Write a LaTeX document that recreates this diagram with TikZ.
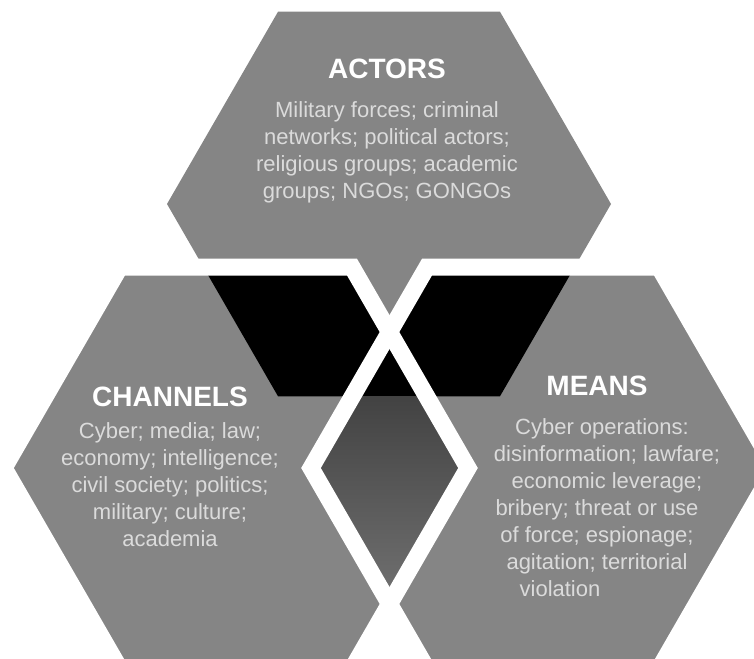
\documentclass[tikz,border=0pt]{standalone}
\usepackage{fontspec}
\setmainfont{Liberation Sans}
\usetikzlibrary{positioning}

\definecolor{hexgray}{gray}{0.52}
\definecolor{coretop}{gray}{0.26}
\definecolor{corebot}{gray}{0.45}

% flat-topped hexagon: centre, radius
\newcommand{\hexpath}[2]{(#1) ++(0:#2) -- ++(120:#2) -- ++(180:#2) -- ++(240:#2) -- ++(300:#2) -- ++(0:#2) -- cycle}

\begin{document}
\begin{tikzpicture}[x=1pt,y=-1pt,
  hextitle/.style={text=white,font=\fontsize{28}{32}\selectfont\bfseries,inner sep=0pt},
  hextext/.style={text=white!86!black,font=\fontsize{22}{27}\selectfont,align=center,inner sep=0pt},
  gapline/.style={draw=white,line width=17pt,line join=miter}]
  \useasboundingbox (0,0) rectangle (754,658);
  \clip (0,0) rectangle (754,658);

  % hexagon centres
  \coordinate (a) at (389,204);   % actors
  \coordinate (c) at (236,468);   % channels
  \coordinate (m) at (543,468);   % means

  % plain hexagons
  \fill[hexgray] \hexpath{a}{222};
  \fill[hexgray] \hexpath{c}{232};
  \fill[hexgray] \hexpath{m}{232};

  % overlaps with the actors hexagon
  \begin{scope}
    \clip \hexpath{a}{222};
    \fill[black] \hexpath{c}{232};
    \fill[black] \hexpath{m}{232};
  \end{scope}

  % channels and means, under the actors hexagon
  \begin{scope}
    \clip \hexpath{c}{232};
    \clip \hexpath{m}{232};
    \shade[top color=coretop,bottom color=corebot] (300,396) rectangle (480,610);
  \end{scope}

  % white gaps round the two lower hexagons
  \draw[gapline] \hexpath{c}{232};
  \draw[gapline] \hexpath{m}{232};

  % labels
  \node[hextitle] (actors) at (387,69) {ACTORS};
  \node[hextext,below=22pt of actors] (actorsText)
    {Military forces; criminal\\networks; political actors;\\religious groups; academic\\groups; NGOs; GONGOs};

  \node[hextitle] (channels) at (170,397) {CHANNELS};
  \node[hextext,below=15pt of channels] (channelsText)
    {Cyber; media; law;\\economy; intelligence;\\civil society; politics;\\military; culture;\\academia};

  \node[hextitle] (means) at (597,386) {MEANS};
  \node[hextext,below=22pt of means] (meansText)
    {\hspace*{10pt}Cyber operations:\\\hspace*{20pt}disinformation; lawfare;\\\hspace*{20pt}economic leverage;\\bribery; threat or use\\of force; espionage;\hspace*{30pt}\\agitation; territorial\hspace*{50pt}\\violation\hspace*{74pt}};
\end{tikzpicture}
\end{document}
